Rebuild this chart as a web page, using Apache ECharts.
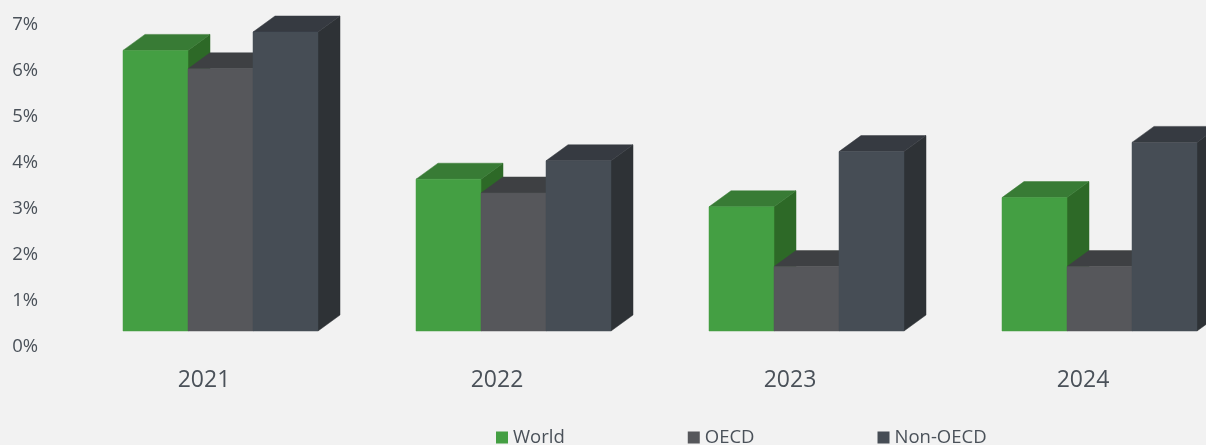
<!DOCTYPE html>
<html><head><meta charset="utf-8">
<style>html,body{margin:0;padding:0;background:#f2f2f2}#c{width:1206px;height:445px}</style>
<script src="https://cdn.jsdelivr.net/npm/echarts@6/dist/echarts.min.js"></script>
</head><body><div id="c"></div>
<script>
const categories = ['2021','2022','2023','2024'];
const world = [6.1,3.3,2.7,2.9];
const oecd = [5.7,3.0,1.4,1.4];
const nonOecd = [6.5,3.7,3.9,4.1];
const yTicks = [0,1,2,3,4,5,6,7];

const faces = [
  {front:'#449f43', top:'#387b35', side:'#2d6927'},
  {front:'#56575b', top:'#3e4043', side:'#37393c'},
  {front:'#464d55', top:'#363a41', side:'#2e3236'}
];
const barW = 65, dx = 22, dy = 16, baseLift = 16, groupShift = 16.5;

function renderBox(params, api){
  const si = params.seriesIndex, f = faces[si];
  const c0 = api.coord([api.value(0), 0]);
  const c1 = api.coord([api.value(0), api.value(1)]);
  const x0 = c0[0] + groupShift + (si - 1.5) * barW;
  const x1 = x0 + barW;
  const yb = c0[1] - baseLift;
  const yt = c1[1] - baseLift;
  const poly = (pts, fill) => ({type:'polygon', shape:{points:pts},
    style:{fill:fill, stroke:fill, lineWidth:0.5}});
  return {type:'group', children:[
    poly([[x1,yb],[x1+dx,yb-dy],[x1+dx,yt-dy],[x1,yt]], f.side),
    poly([[x0,yt],[x0+dx,yt-dy],[x1+dx,yt-dy],[x1,yt]], f.top),
    poly([[x0,yb],[x1,yb],[x1,yt],[x0,yt]], f.front)
  ]};
}
const makeSeries = (name, vals, i) => ({
  name, type:'custom', renderItem:renderBox, clip:false,
  itemStyle:{color:faces[i].front},
  encode:{x:0,y:1},
  data: vals.map((v,k)=>[k,v])
});

const chart = echarts.init(document.getElementById('c'), null, {renderer:'canvas'});
chart.setOption({
  animation:false,
  backgroundColor:'#f2f2f2',
  textStyle:{fontFamily:'"Open Sans"'},
  grid:{left:204, width:879, top:25, height:322, containLabel:false},
  legend:{
    left:491, top:423, icon:'rect', itemWidth:12, itemHeight:12, itemGap:123,
    textStyle:{color:'#4a5159', fontSize:18.5, fontFamily:'"Open Sans"', padding:[0,0,0,0]},
    data:['World','OECD','Non-OECD']
  },
  xAxis:{
    type:'category', data:categories, boundaryGap:false,
    axisLine:{show:false}, axisTick:{show:false}, splitLine:{show:false},
    axisLabel:{color:'#4a5159', fontSize:23, margin:22, interval:0, hideOverlap:false}
  },
  yAxis:{
    type:'value', min:yTicks[0], max:yTicks[yTicks.length-1], interval:1,
    axisLine:{show:false}, axisTick:{show:false}, splitLine:{show:false},
    axisLabel:{color:'#4a5159', fontSize:18.5, margin:166, formatter:'{value}%'}
  },
  series:[
    makeSeries('World', world, 0),
    makeSeries('OECD', oecd, 1),
    makeSeries('Non-OECD', nonOecd, 2)
  ]
});
</script></body></html>
